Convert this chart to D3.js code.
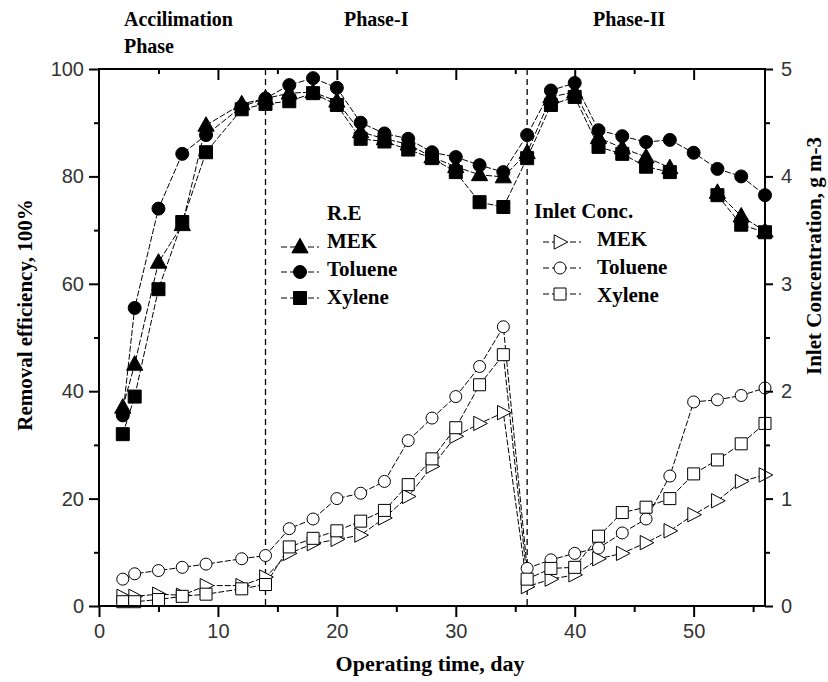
<!DOCTYPE html>
<html>
<head>
<meta charset="utf-8">
<script src="https://cdn.jsdelivr.net/npm/d3@7"></script>
<style>
  body { margin: 0; background: #fff; }
  svg text { font-family: "Liberation Serif", "Times New Roman", serif; font-weight: bold; fill: #000; }
  .tick text { font-family: "Liberation Sans", Arial, sans-serif; font-weight: normal; font-size: 20px; fill: #333; }
</style>
</head>
<body>
<svg width="828" height="682"></svg>
<script>
// operating days of the samples
const days = [2, 3, 5, 7, 9, 12, 14, 16, 18, 20, 22, 24, 26, 28, 30, 32, 34, 36, 38, 40, 42, 44, 46, 48, 50, 52, 54, 56];

// removal efficiency, %  (null = gap in the curve)
const reMek     = [37, 45, 64, 71, 89.5, 93.5, 94.5, 95.5, 95.7, 94, 88.3, 87, 86, 83.6, 81.8, 80.3, 79.9, 84.4, 94.8, 95.7, 87.2, 85.3, 83.6, 81.6, null, 77, 72.6, 69.8];
const reToluene = [35.5, 55.5, 74, 84.2, 87.7, 93, 94.5, 97, 98.3, 96.5, 90, 88, 87, 84.5, 83.6, 82.1, 80.8, 87.7, 96, 97.4, 88.6, 87.5, 86.4, 86.8, 84.4, 81.4, 80, 76.5];
const reXylene  = [32, 39, 59, 71.5, 84.5, 92.5, 93.5, 94, 95.5, 93.3, 87, 86.5, 85, 83.4, 80.8, 75.2, 74.3, 83.4, 93.3, 94.8, 85.5, 84.2, 81.8, 80.8, null, 76.5, 71, 69.6];

// inlet concentration, g m-3
const inMek     = [0.09, 0.09, 0.11, 0.1, 0.19, 0.19, 0.27, 0.49, 0.58, 0.62, 0.66, 0.82, 1.02, 1.30, 1.58, 1.70, 1.80, 0.18, 0.25, 0.29, 0.44, 0.49, 0.59, 0.70, 0.85, 0.98, 1.16, 1.22];
const inToluene = [0.25, 0.30, 0.33, 0.36, 0.39, 0.44, 0.47, 0.72, 0.81, 1.0, 1.05, 1.16, 1.54, 1.75, 1.95, 2.23, 2.60, 0.35, 0.43, 0.49, 0.54, 0.68, 0.81, 1.21, 1.90, 1.92, 1.96, 2.03];
const inXylene  = [0.04, 0.04, 0.06, 0.09, 0.11, 0.16, 0.2, 0.55, 0.63, 0.70, 0.79, 0.89, 1.13, 1.37, 1.66, 2.06, 2.34, 0.25, 0.35, 0.36, 0.65, 0.87, 0.92, 1.0, 1.23, 1.36, 1.51, 1.70];

// phase boundaries and ticks
const phaseDays = [14, 36];
const xMajor = [0, 10, 20, 30, 40, 50];
const xMinor = [5, 15, 25, 35, 45, 55];
const reMajor = [0, 20, 40, 60, 80, 100];
const reMinor = [10, 30, 50, 70, 90];
const concMajor = [0, 1, 2, 3, 4, 5];
const concMinor = [0.5, 1.5, 2.5, 3.5, 4.5];

var svg = d3.select("svg");

var pLeft = 99, pRight = 765, pTop = 69, pBottom = 606;

var x = d3.scaleLinear().domain([0, 56]).range([pLeft, pRight]);
var yRE = d3.scaleLinear().domain([0, 100]).range([pBottom, pTop]);
var yC = d3.scaleLinear().domain([0, 5]).range([pBottom, pTop]);

// symbol shapes
function triUp(s) { return "M0," + (-s * 0.62) + "L" + (s * 0.58) + "," + (s * 0.42) + "L" + (-s * 0.58) + "," + (s * 0.42) + "Z"; }
function triRight(s) { return "M" + (s * 0.6) + ",0L" + (-s * 0.45) + "," + (-s * 0.55) + "L" + (-s * 0.45) + "," + (s * 0.55) + "Z"; }
function circ(s) { var r = s / 2; return "M" + r + ",0A" + r + "," + r + " 0 1,1 " + (-r) + ",0A" + r + "," + r + " 0 1,1 " + r + ",0Z"; }
function sq(s) { var h = s / 2; return "M" + (-h) + "," + (-h) + "H" + h + "V" + h + "H" + (-h) + "Z"; }

var series = [
    { vals: reMek, y: yRE, shape: triUp, size: 14, fill: "#000" },
    { vals: reToluene, y: yRE, shape: circ, size: 13, fill: "#000" },
    { vals: reXylene, y: yRE, shape: sq, size: 13, fill: "#000" },
    { vals: inMek, y: yC, shape: triRight, size: 13, fill: "#fff" },
    { vals: inToluene, y: yC, shape: circ, size: 12, fill: "#fff" },
    { vals: inXylene, y: yC, shape: sq, size: 12, fill: "#fff" }
];

// dashed phase separators
svg.selectAll(".phase")
    .data(phaseDays)
    .enter().append("line")
    .attr("x1", d => x(d)).attr("x2", d => x(d))
    .attr("y1", pTop).attr("y2", pBottom)
    .attr("stroke", "#000")
    .attr("stroke-width", 1.3)
    .attr("stroke-dasharray", "6,4");

// lines
series.forEach(function (s) {
    var pts = days.map((d, i) => [d, s.vals[i]]);
    var line = d3.line()
        .defined(p => p[1] != null)
        .x(p => x(p[0]))
        .y(p => s.y(p[1]));
    svg.append("path")
        .datum(pts)
        .attr("fill", "none")
        .attr("stroke", "#000")
        .attr("stroke-width", 1)
        .attr("stroke-dasharray", "6,2")
        .attr("d", line);
});

// markers
series.forEach(function (s) {
    var pts = days.map((d, i) => [d, s.vals[i]]).filter(p => p[1] != null);
    svg.append("g")
        .selectAll("path")
        .data(pts)
        .enter().append("path")
        .attr("transform", p => "translate(" + x(p[0]) + "," + s.y(p[1]) + ")")
        .attr("d", s.shape(s.size))
        .attr("fill", s.fill)
        .attr("stroke", "#000")
        .attr("stroke-width", 1);
});

// axes
function styleAxis(g) {
    g.select(".domain").remove();
    g.selectAll(".tick line").attr("stroke", "#000").attr("stroke-width", 2);
}

svg.append("g").attr("transform", "translate(0," + pBottom + ")")
    .call(d3.axisBottom(x).tickValues(xMajor).tickSize(11).tickPadding(7))
    .call(styleAxis);
svg.append("g").attr("transform", "translate(0," + pBottom + ")")
    .call(d3.axisBottom(x).tickValues(xMinor).tickSize(6).tickFormat(""))
    .call(styleAxis);
// top axis, ticks inward
svg.append("g").attr("transform", "translate(0," + pTop + ")")
    .call(d3.axisBottom(x).tickValues(xMajor.slice(1)).tickSize(11).tickFormat(""))
    .call(styleAxis);
svg.append("g").attr("transform", "translate(0," + pTop + ")")
    .call(d3.axisBottom(x).tickValues(xMinor.slice(0, 5)).tickSize(5).tickFormat(""))
    .call(styleAxis);

svg.append("g").attr("transform", "translate(" + pLeft + ",0)")
    .call(d3.axisLeft(yRE).tickValues(reMajor).tickSize(10).tickPadding(5))
    .call(styleAxis);
svg.append("g").attr("transform", "translate(" + pLeft + ",0)")
    .call(d3.axisLeft(yRE).tickValues(reMinor).tickSize(5).tickFormat(""))
    .call(styleAxis);

svg.append("g").attr("transform", "translate(" + pRight + ",0)")
    .call(d3.axisRight(yC).tickValues(concMajor).tickSize(8).tickPadding(8).tickFormat(d3.format("d")))
    .call(styleAxis);
svg.append("g").attr("transform", "translate(" + pRight + ",0)")
    .call(d3.axisRight(yC).tickValues(concMinor).tickSize(5).tickFormat(""))
    .call(styleAxis);

// frame
svg.append("rect")
    .attr("x", pLeft).attr("y", pTop)
    .attr("width", pRight - pLeft).attr("height", pBottom - pTop)
    .attr("fill", "none")
    .attr("stroke", "#000")
    .attr("stroke-width", 2);

// axis titles
svg.append("text")
    .attr("x", (pLeft + pRight) / 2 - 2).attr("y", 671)
    .attr("text-anchor", "middle")
    .style("font-size", "22px")
    .text("Operating time, day");
svg.append("text")
    .attr("transform", "translate(32,315) rotate(-90)")
    .attr("text-anchor", "middle")
    .style("font-size", "21px")
    .text("Removal efficiency, 100%");
svg.append("text")
    .attr("transform", "translate(821,256) rotate(-90)")
    .attr("text-anchor", "middle")
    .style("font-size", "21px")
    .text("Inlet Concentration, g m-3");

// phase labels
const phaseLabels = [
    { t: "Accilimation", x: 124, y: 26 },
    { t: "Phase", x: 124, y: 53 },
    { t: "Phase-I", x: 344, y: 26 },
    { t: "Phase-II", x: 593, y: 26 }
];
svg.selectAll(".plabel")
    .data(phaseLabels)
    .enter().append("text")
    .attr("x", d => d.x).attr("y", d => d.y)
    .style("font-size", "20px")
    .text(d => d.t);

// legends
const legendNames = ["MEK", "Toluene", "Xylene"];
function legend(title, tx, ty, lx, mx, textX, rows, offset) {
    svg.append("text").attr("x", tx).attr("y", ty).style("font-size", "21px").text(title);
    rows.forEach(function (s, i) {
        var yy = ty + 28 * (i + 1);
        svg.append("line")
            .attr("x1", lx).attr("x2", lx + 38)
            .attr("y1", yy - 7 + offset[i]).attr("y2", yy - 7 + offset[i])
            .attr("stroke", "#000").attr("stroke-width", 1)
            .attr("stroke-dasharray", "6,3");
        svg.append("path")
            .attr("transform", "translate(" + mx + "," + (yy - 7 + offset[i]) + ")")
            .attr("d", s.shape(s.size))
            .attr("fill", s.fill)
            .attr("stroke", "#000");
        svg.append("text").attr("x", textX).attr("y", yy).style("font-size", "21px").text(legendNames[i]);
    });
}
legend("R.E", 327, 220, 281, 300, 327, series.slice(0, 3), [6, 3, 1]);
legend("Inlet Conc.", 534, 218, 543, 560, 597, series.slice(3), [3, 1, -1]);
</script>
</body>
</html>
